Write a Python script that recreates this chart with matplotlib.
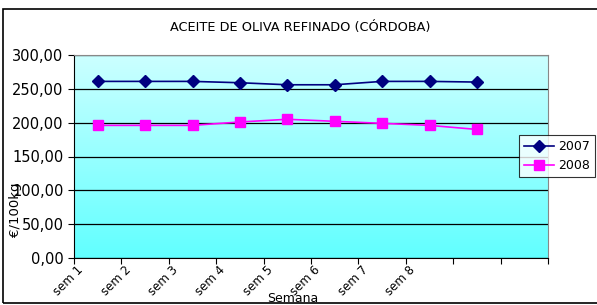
import matplotlib.pyplot as plt
import numpy as np
from matplotlib.patches import Rectangle

semanas = ['sem 1', 'sem 2', 'sem 3', 'sem 4', 'sem 5', 'sem 6', 'sem 7', 'sem 8', '', '']
serie_a = [261, 261, 261, 259, 256, 256, 261, 261, 260]
serie_b = [196, 196, 196, 201, 205, 202, 199, 196, 190]
leyenda = ['2007', '2008']

fig = plt.figure(figsize=(5.97, 3.05), dpi=100)
ax = fig.add_axes([74 / 597, 1 - 258 / 305, 474 / 597, 203 / 305])

# borde del gráfico
fig.patches.append(Rectangle((3 / 597, 2 / 305), 0.999, 1 - 11 / 305, transform=fig.transFigure,
                             fill=False, edgecolor='black', linewidth=1.2))

# fondo degradado
grad = np.linspace(0, 1, 256).reshape(-1, 1)
top = np.array([0.80, 1.0, 1.0])
bot = np.array([0.38, 1.0, 1.0])
img = bot + (top - bot) * grad
ax.imshow(img[::-1].reshape(256, 1, 3), extent=[0, 1, 0, 1], transform=ax.transAxes,
          aspect='auto', zorder=0)

x = np.arange(len(serie_a)) + 0.5
ax.plot(x, serie_a, color='#000080', marker='D', markersize=6, linewidth=1.2, label=leyenda[0], zorder=3)
ax.plot(x, serie_b, color='#ff00ff', marker='s', markersize=7, linewidth=1.2, label=leyenda[1], zorder=3)

ax.set_xlim(0, len(semanas))
ax.set_ylim(0, 300)
ax.set_yticks(np.arange(0, 301, 50))
ax.set_yticklabels([f'{v:.2f}'.replace('.', ',') for v in range(0, 301, 50)], fontsize=10.5)
ax.set_xticks(np.arange(len(semanas) + 1))
ax.set_xticklabels([])
for i, s in enumerate(semanas):
    ax.text(i + 0.25, -8, s, rotation=45, ha='right', va='top', fontsize=8.5)
ax.tick_params(axis='x', length=4, direction='out')
ax.tick_params(axis='y', length=4, direction='out')
ax.grid(axis='y', color='black', linewidth=0.9, zorder=1)
for s in ['top', 'right']:
    ax.spines[s].set_color('#888888')
for s in ['left', 'bottom']:
    ax.spines[s].set_color('black')

fig.text(300 / 597, 1 - 28 / 305, 'ACEITE DE OLIVA REFINADO (CÓRDOBA)', ha='center', va='center', fontsize=9.3)
fig.text(15 / 597, 1 - 210 / 305, '€/100kg', rotation=90, ha='center', va='center', fontsize=9.5)
fig.text(293 / 597, 1 - 298 / 305, 'Semana', ha='center', va='center', fontsize=9)

leg = fig.legend(loc='upper left', bbox_to_anchor=(519 / 597, 1 - 135 / 305), frameon=True,
                 fancybox=False, edgecolor='black', fontsize=9, handlelength=2.4,
                 handletextpad=0.3, borderpad=0.4, borderaxespad=0)
leg.get_frame().set_linewidth(0.8)

fig.savefig('out.png', dpi=100)
